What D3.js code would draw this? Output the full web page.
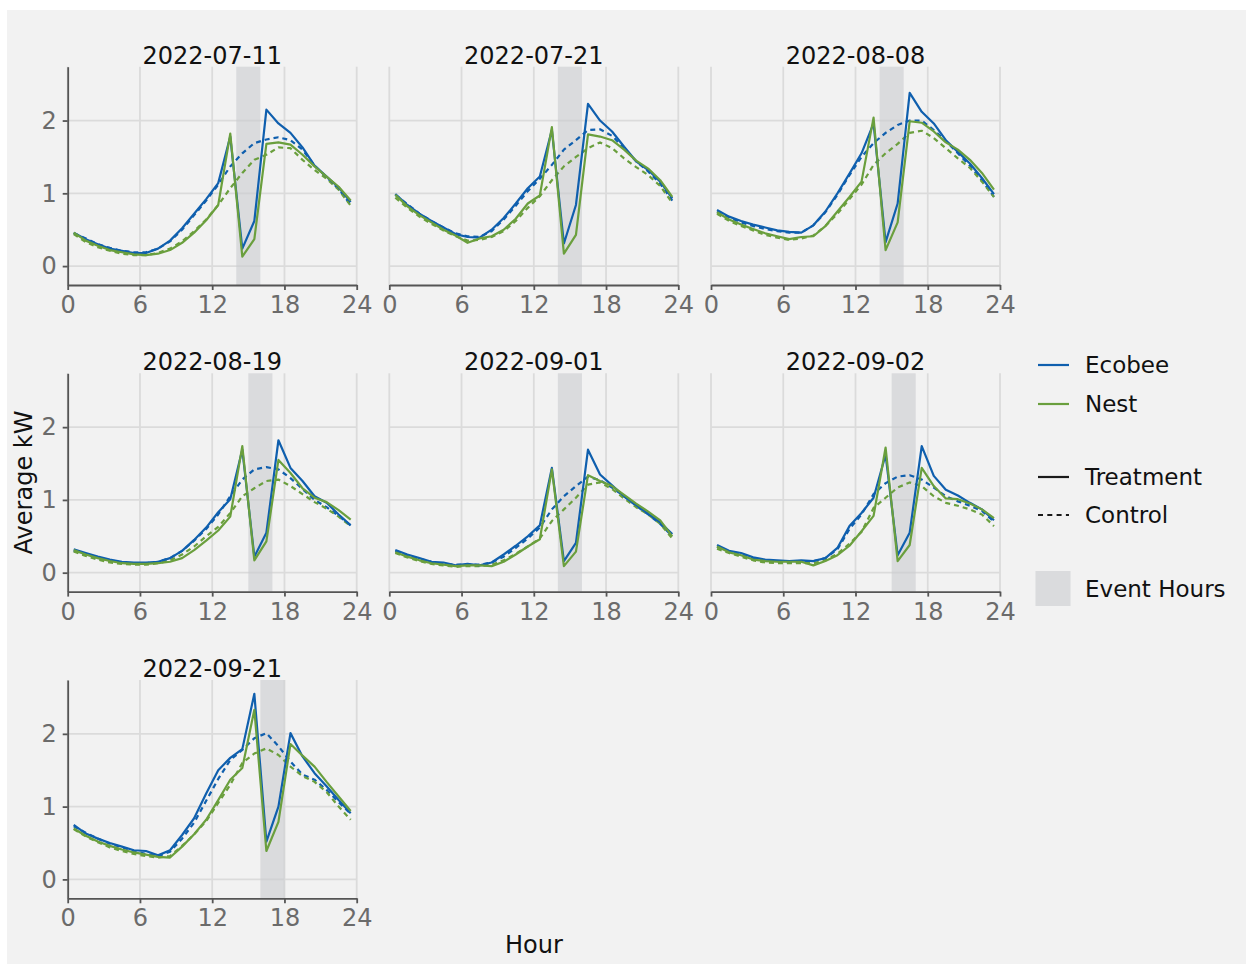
<!DOCTYPE html>
<html>
<head>
<meta charset="utf-8">
<title>Average kW by hour</title>
<script src="https://d3js.org/d3.v7.min.js"></script>
<style>
  body { margin: 0; background: #fff; }
  svg { display: block; font-family: "DejaVu Sans", sans-serif; }
  .grid line { stroke: #dbdbdb; stroke-width: 1.8px; }
  .axis path, .axis line { stroke: #555; stroke-width: 1.8px; }
  .axis text { fill: #6b6b6b; font-family: "DejaVu Sans", sans-serif; }
</style>
</head>
<body>
<chart></chart>
<script>
// event dates (one panel each) and the event window start hour
const dates = ['2022-07-11', '2022-07-21', '2022-08-08', '2022-08-19', '2022-09-01', '2022-09-02', '2022-09-21'];
const eventStart = [14, 14, 14, 15, 14, 15, 16];
const eventLength = 2;
const hours = d3.range(24).map(h => h + 0.5);

// average kW per hour, one row per date
const ecobeeTreatment = [
  [0.46, 0.37, 0.30, 0.24, 0.21, 0.18, 0.18, 0.24, 0.35, 0.52, 0.72, 0.92, 1.14, 1.78, 0.24, 0.62, 2.15, 1.96, 1.83, 1.63, 1.38, 1.23, 1.08, 0.88],
  [0.99, 0.84, 0.72, 0.62, 0.53, 0.44, 0.40, 0.39, 0.50, 0.66, 0.86, 1.07, 1.23, 1.87, 0.31, 0.84, 2.23, 2.00, 1.85, 1.64, 1.44, 1.32, 1.16, 0.93],
  [0.77, 0.68, 0.62, 0.57, 0.53, 0.49, 0.47, 0.46, 0.56, 0.75, 1.00, 1.27, 1.55, 1.96, 0.33, 0.86, 2.38, 2.12, 1.96, 1.73, 1.57, 1.41, 1.21, 0.99],
  [0.32, 0.27, 0.22, 0.18, 0.15, 0.14, 0.14, 0.15, 0.20, 0.30, 0.45, 0.62, 0.83, 1.01, 1.69, 0.22, 0.55, 1.82, 1.44, 1.26, 1.05, 0.96, 0.80, 0.65],
  [0.31, 0.25, 0.20, 0.15, 0.14, 0.10, 0.12, 0.10, 0.14, 0.25, 0.37, 0.50, 0.65, 1.44, 0.16, 0.41, 1.69, 1.35, 1.20, 1.05, 0.93, 0.81, 0.69, 0.53],
  [0.38, 0.30, 0.27, 0.21, 0.18, 0.17, 0.16, 0.17, 0.16, 0.20, 0.34, 0.64, 0.82, 1.03, 1.62, 0.24, 0.55, 1.74, 1.33, 1.14, 1.06, 0.96, 0.87, 0.72],
  [0.75, 0.63, 0.56, 0.50, 0.45, 0.40, 0.39, 0.33, 0.40, 0.61, 0.84, 1.18, 1.50, 1.67, 1.79, 2.55, 0.52, 1.00, 2.01, 1.69, 1.46, 1.28, 1.09, 0.91]
];
const ecobeeControl = [
  [0.45, 0.38, 0.30, 0.25, 0.21, 0.19, 0.19, 0.24, 0.34, 0.50, 0.70, 0.90, 1.12, 1.37, 1.55, 1.69, 1.74, 1.77, 1.73, 1.60, 1.38, 1.22, 1.06, 0.84],
  [0.98, 0.85, 0.72, 0.62, 0.53, 0.45, 0.41, 0.40, 0.48, 0.64, 0.83, 1.03, 1.20, 1.39, 1.60, 1.73, 1.87, 1.88, 1.79, 1.62, 1.44, 1.30, 1.13, 0.90],
  [0.75, 0.67, 0.60, 0.55, 0.51, 0.48, 0.46, 0.46, 0.56, 0.74, 0.98, 1.25, 1.50, 1.69, 1.83, 1.94, 2.00, 2.00, 1.87, 1.72, 1.55, 1.38, 1.18, 0.95],
  [0.30, 0.25, 0.20, 0.16, 0.14, 0.13, 0.13, 0.15, 0.20, 0.30, 0.44, 0.60, 0.80, 1.05, 1.28, 1.42, 1.45, 1.42, 1.30, 1.15, 1.00, 0.90, 0.78, 0.65],
  [0.30, 0.24, 0.19, 0.15, 0.12, 0.11, 0.11, 0.11, 0.14, 0.22, 0.34, 0.47, 0.62, 0.87, 1.05, 1.19, 1.32, 1.27, 1.17, 1.05, 0.92, 0.80, 0.67, 0.50],
  [0.36, 0.29, 0.25, 0.20, 0.17, 0.15, 0.14, 0.14, 0.16, 0.20, 0.32, 0.60, 0.80, 1.08, 1.23, 1.32, 1.34, 1.28, 1.17, 1.05, 0.98, 0.92, 0.85, 0.70],
  [0.73, 0.64, 0.56, 0.49, 0.44, 0.39, 0.35, 0.32, 0.38, 0.56, 0.78, 1.08, 1.38, 1.64, 1.78, 1.94, 2.01, 1.83, 1.62, 1.44, 1.37, 1.23, 1.06, 0.90]
];
const nestTreatment = [
  [0.46, 0.35, 0.28, 0.22, 0.19, 0.16, 0.15, 0.17, 0.22, 0.32, 0.46, 0.63, 0.84, 1.82, 0.13, 0.37, 1.68, 1.70, 1.67, 1.53, 1.37, 1.23, 1.09, 0.90],
  [0.98, 0.82, 0.70, 0.60, 0.50, 0.42, 0.32, 0.38, 0.41, 0.50, 0.65, 0.86, 0.97, 1.91, 0.17, 0.43, 1.81, 1.78, 1.73, 1.60, 1.45, 1.34, 1.18, 0.95],
  [0.74, 0.64, 0.57, 0.51, 0.45, 0.41, 0.37, 0.40, 0.41, 0.55, 0.75, 0.95, 1.16, 2.04, 0.22, 0.60, 1.99, 1.97, 1.85, 1.70, 1.60, 1.46, 1.28, 1.05],
  [0.31, 0.25, 0.20, 0.16, 0.13, 0.12, 0.12, 0.13, 0.15, 0.20, 0.31, 0.44, 0.58, 0.77, 1.74, 0.17, 0.43, 1.55, 1.37, 1.16, 1.03, 0.97, 0.86, 0.73],
  [0.28, 0.22, 0.17, 0.13, 0.11, 0.09, 0.10, 0.10, 0.09, 0.15, 0.25, 0.36, 0.46, 1.42, 0.09, 0.29, 1.34, 1.26, 1.19, 1.07, 0.95, 0.84, 0.72, 0.50],
  [0.36, 0.28, 0.24, 0.18, 0.16, 0.15, 0.15, 0.15, 0.10, 0.16, 0.24, 0.37, 0.57, 0.78, 1.72, 0.16, 0.38, 1.44, 1.19, 1.02, 1.01, 0.95, 0.87, 0.75],
  [0.70, 0.60, 0.52, 0.46, 0.41, 0.37, 0.34, 0.31, 0.30, 0.45, 0.62, 0.82, 1.09, 1.37, 1.53, 2.33, 0.39, 0.79, 1.86, 1.70, 1.55, 1.34, 1.14, 0.94]
];
const nestControl = [
  [0.44, 0.33, 0.26, 0.21, 0.17, 0.15, 0.15, 0.18, 0.24, 0.34, 0.48, 0.64, 0.84, 1.07, 1.28, 1.46, 1.53, 1.63, 1.62, 1.46, 1.32, 1.20, 1.05, 0.83],
  [0.94, 0.80, 0.68, 0.58, 0.49, 0.41, 0.35, 0.36, 0.40, 0.48, 0.62, 0.80, 0.96, 1.18, 1.37, 1.50, 1.62, 1.70, 1.62, 1.48, 1.36, 1.25, 1.10, 0.87],
  [0.72, 0.62, 0.55, 0.49, 0.43, 0.39, 0.36, 0.38, 0.42, 0.55, 0.72, 0.92, 1.12, 1.39, 1.55, 1.68, 1.83, 1.86, 1.76, 1.62, 1.48, 1.35, 1.16, 0.95],
  [0.29, 0.23, 0.18, 0.14, 0.12, 0.11, 0.11, 0.13, 0.17, 0.25, 0.36, 0.50, 0.63, 0.82, 1.05, 1.16, 1.26, 1.28, 1.19, 1.08, 0.97, 0.88, 0.77, 0.64],
  [0.27, 0.21, 0.16, 0.12, 0.10, 0.08, 0.09, 0.09, 0.11, 0.17, 0.26, 0.36, 0.47, 0.71, 0.87, 1.03, 1.21, 1.24, 1.15, 1.02, 0.90, 0.80, 0.67, 0.47],
  [0.33, 0.27, 0.22, 0.17, 0.14, 0.13, 0.13, 0.13, 0.13, 0.17, 0.26, 0.40, 0.56, 0.89, 1.03, 1.17, 1.24, 1.19, 1.05, 0.96, 0.92, 0.87, 0.80, 0.64],
  [0.69, 0.59, 0.51, 0.44, 0.39, 0.35, 0.32, 0.30, 0.32, 0.46, 0.62, 0.80, 1.05, 1.30, 1.60, 1.73, 1.80, 1.71, 1.55, 1.42, 1.34, 1.20, 1.00, 0.82]
];

const xTicks = [0, 6, 12, 18, 24];
const yTicks = [0, 1, 2];

const blue = '#0f5fae', green = '#6a9f3d';
const series = [
  { values: ecobeeControl, color: blue, dash: '5,4' },
  { values: nestControl, color: green, dash: '5,4' },
  { values: ecobeeTreatment, color: blue, dash: null },
  { values: nestTreatment, color: green, dash: null }
];

const W = 1246, H = 964;
const panelW = 289, panelH = 218.3;
const colX = [67.7, 389.3, 711];
const rowY = [66.7, 373.3, 680];
const fontSize = 24;

const x = d3.scaleLinear().domain([0, 24]).range([0, panelW]);
const y = d3.scaleLinear().domain([-0.26, 2.74]).range([panelH, 0]);
const line = d3.line().x((d, i) => x(hours[i])).y(d => y(d));

const svg = d3.select('chart').append('svg')
  .attr('width', W).attr('height', H);

svg.append('rect').attr('x', 7).attr('y', 10)
  .attr('width', W - 7).attr('height', H - 10).attr('fill', '#f2f2f2');

dates.forEach((date, p) => {
  const col = p % 3, row = Math.floor(p / 3);
  const g = svg.append('g')
    .attr('transform', `translate(${colX[col]},${rowY[row]})`);

  const grid = g.append('g').attr('class', 'grid');
  grid.selectAll('.gx').data(xTicks).join('line')
    .attr('x1', d => x(d)).attr('x2', d => x(d))
    .attr('y1', 0).attr('y2', panelH);
  grid.selectAll('.gy').data(yTicks).join('line')
    .attr('x1', 0).attr('x2', panelW)
    .attr('y1', d => y(d)).attr('y2', d => y(d));

  g.append('rect')
    .attr('x', x(eventStart[p])).attr('width', x(eventStart[p] + eventLength) - x(eventStart[p]))
    .attr('y', 0).attr('height', panelH)
    .attr('fill', '#c9cbce').attr('opacity', 0.6);

  series.forEach(s => {
    g.append('path')
      .attr('d', line(s.values[p]))
      .attr('fill', 'none')
      .attr('stroke', s.color)
      .attr('stroke-width', 2.2)
      .attr('stroke-linejoin', 'round')
      .attr('stroke-dasharray', s.dash);
  });

  const xa = g.append('g').attr('class', 'axis')
    .attr('transform', `translate(0,${panelH})`)
    .call(d3.axisBottom(x).tickValues(xTicks).tickSize(5).tickPadding(3).tickSizeOuter(0));
  xa.attr('font-size', fontSize);
  xa.selectAll('text').attr('dy', '0.83em');

  if (col === 0) {
    g.append('g').attr('class', 'axis')
      .call(d3.axisLeft(y).tickValues(yTicks).tickFormat(d3.format('d'))
        .tickSize(5).tickPadding(6).tickSizeOuter(0))
      .attr('font-size', fontSize);
  }

  g.append('text')
    .attr('x', panelW / 2).attr('y', -3)
    .attr('text-anchor', 'middle')
    .attr('font-size', fontSize).attr('fill', '#111')
    .text(date);
});

// axis titles
svg.append('text')
  .attr('transform', `translate(32,${(rowY[0] + rowY[2] + panelH) / 2}) rotate(-90)`)
  .attr('text-anchor', 'middle').attr('font-size', fontSize).attr('fill', '#111')
  .text('Average kW');
svg.append('text')
  .attr('x', (colX[0] + colX[2] + panelW) / 2).attr('y', 953)
  .attr('text-anchor', 'middle').attr('font-size', fontSize).attr('fill', '#111')
  .text('Hour');

// legend
const legend = svg.append('g').attr('transform', 'translate(1038,0)');
const legendLines = [
  { label: 'Ecobee', y: 365, color: blue, dash: null },
  { label: 'Nest', y: 404, color: green, dash: null },
  { label: 'Treatment', y: 477, color: '#1a1a1a', dash: null },
  { label: 'Control', y: 515, color: '#1a1a1a', dash: '5,4.3' }
];
legendLines.forEach(d => {
  legend.append('line')
    .attr('x1', 0).attr('x2', 31).attr('y1', d.y).attr('y2', d.y)
    .attr('stroke', d.color).attr('stroke-width', 2.2)
    .attr('stroke-dasharray', d.dash);
  legend.append('text')
    .attr('x', 47).attr('y', d.y).attr('dy', '0.36em')
    .attr('font-size', 23).attr('fill', '#111')
    .text(d.label);
});
legend.append('rect')
  .attr('x', -2.5).attr('y', 571).attr('width', 35).attr('height', 35)
  .attr('fill', '#c9cbce').attr('opacity', 0.6);
legend.append('text')
  .attr('x', 47).attr('y', 589).attr('dy', '0.36em')
  .attr('font-size', 23).attr('fill', '#111')
  .text('Event Hours');
</script>
</body>
</html>
